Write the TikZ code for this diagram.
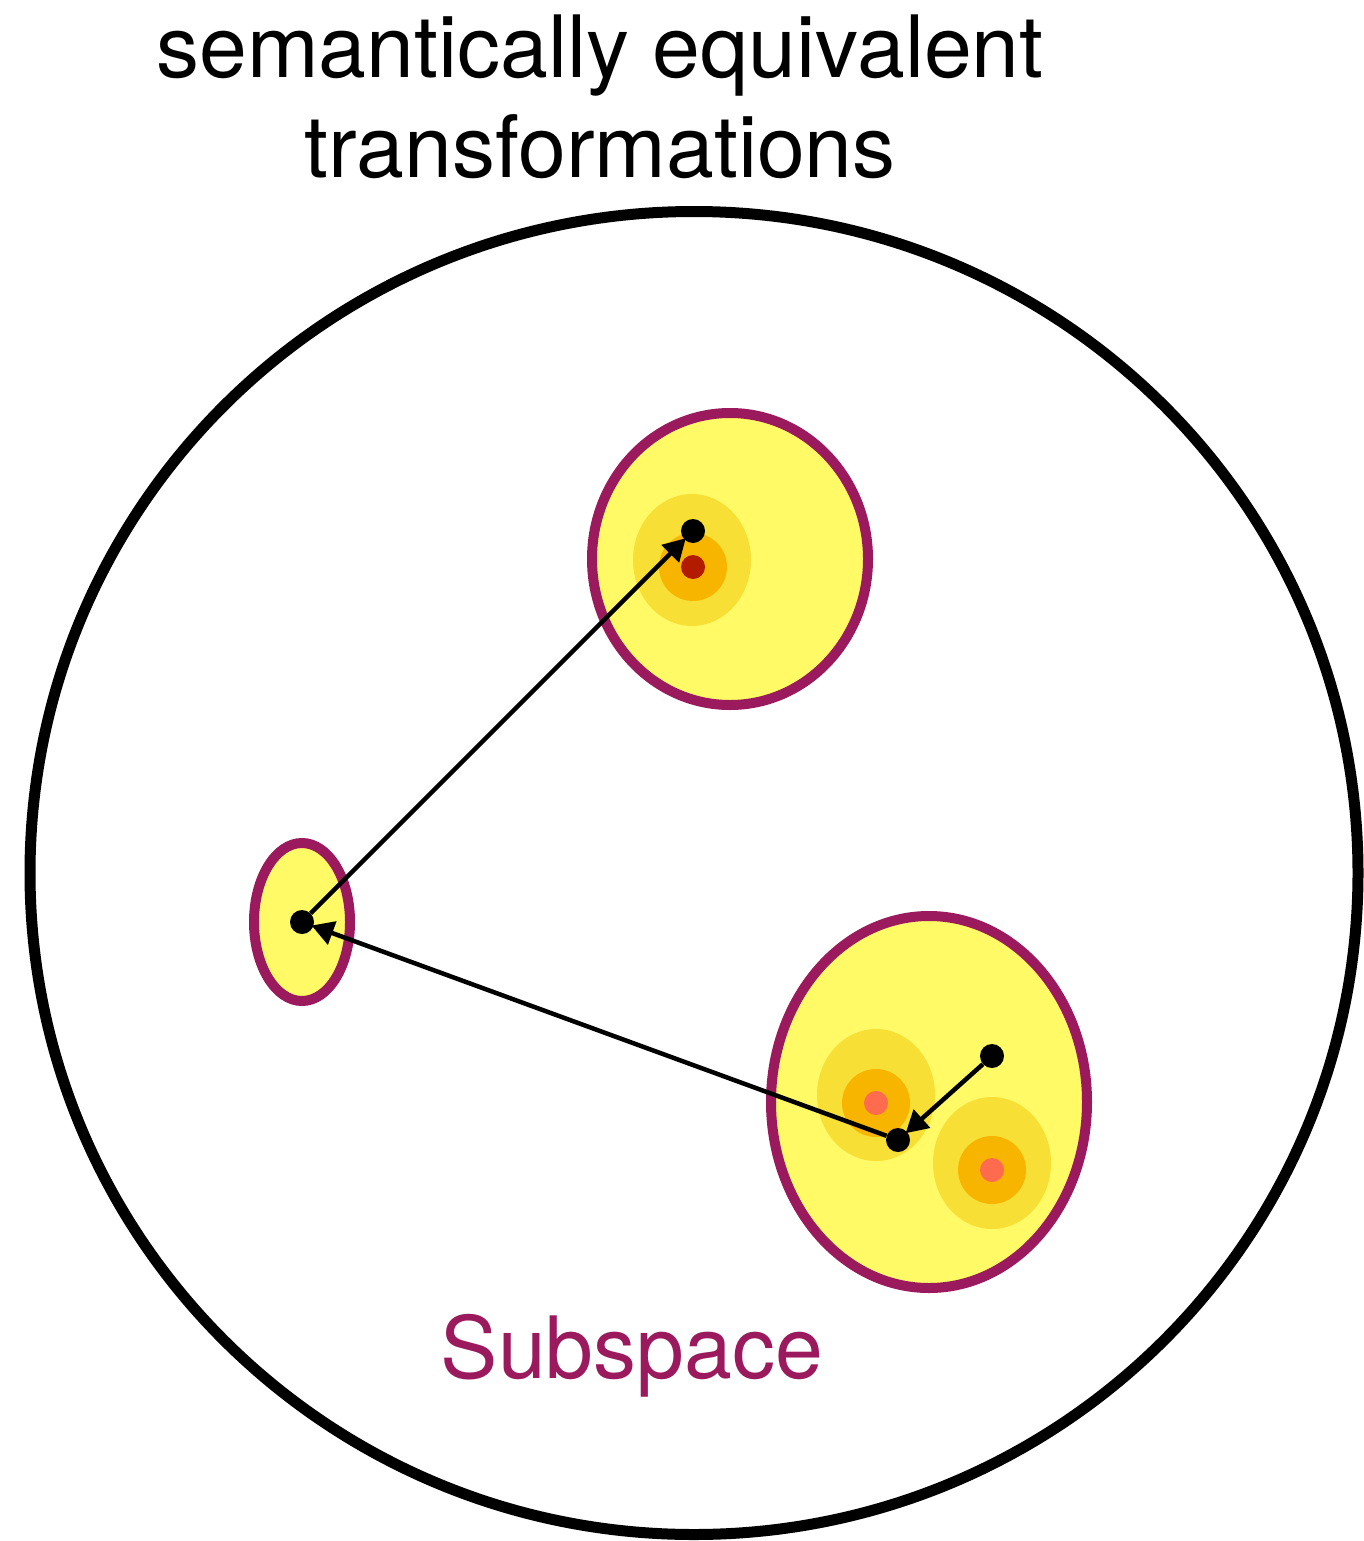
\documentclass[tikz,border=0pt]{standalone}
\usepackage{fontspec}
\setmainfont{TeX Gyre Heros}
\usetikzlibrary{arrows.meta}
\definecolor{subpurple}{HTML}{9B1A5E}
\definecolor{subyellow}{HTML}{FFFA66}
\definecolor{lightorange}{HTML}{F8DF35}
\definecolor{midorange}{HTML}{F7B500}
\definecolor{darkred}{HTML}{B31B00}
\definecolor{salmon}{HTML}{FF6B4F}
\tikzset{
  dot/.style={circle, fill=black, inner sep=0pt, minimum size=24pt},
  subspace/.style={draw=subpurple, line width=10pt, fill=subyellow},
  conn/.style={line width=4.5pt, -{Triangle[length=22pt,width=24pt]}, shorten >=-2pt},
  bigtext/.style={font=\fontsize{86pt}{100pt}\selectfont, inner sep=0pt, anchor=base},
}
\begin{document}
\begin{tikzpicture}[x=1pt,y=-1pt]
\useasboundingbox (0,0) rectangle (1363,1541);
% outer space
\draw[line width=11pt] (694,873) ellipse [x radius=664pt, y radius=661.5pt];
% subspaces
\draw[subspace] (730,559) ellipse [x radius=138pt, y radius=146pt];
\draw[subspace] (302,922) ellipse [x radius=48pt, y radius=79pt];
\draw[subspace] (929,1102) ellipse [x radius=158pt, y radius=186pt];
% cluster top
\fill[lightorange] (692,560) ellipse [x radius=59pt, y radius=66pt];
\fill[midorange] (693,567) circle [radius=34pt];
\fill[darkred] (693,567) circle [radius=12pt];
% cluster bottom 1
\fill[lightorange] (876,1095) ellipse [x radius=59pt, y radius=66pt];
\fill[midorange] (876,1103) circle [radius=34pt];
\fill[salmon] (876,1103) circle [radius=12pt];
% cluster bottom 2
\fill[lightorange] (992,1163) ellipse [x radius=59pt, y radius=66pt];
\fill[midorange] (992,1170) circle [radius=34pt];
\fill[salmon] (992,1170) circle [radius=12pt];
% dots
\node[dot] (ptop) at (693,531) {};
\node[dot] (pleft) at (302,922) {};
\node[dot] (pmid) at (898,1140) {};
\node[dot] (pright) at (992,1056) {};
% connectors
\draw[conn] (pleft) -- (ptop);
\draw[conn] (pmid) -- (pleft);
\draw[conn] (pright) -- (pmid);
% texts
\node[bigtext] (t1) at (600,78) {semantically equivalent};
\node[bigtext] (t2) at (600,178) {transformations};
\node[bigtext, text=subpurple] (sub) at (632,1378) {Subspace};
\end{tikzpicture}
\end{document}
